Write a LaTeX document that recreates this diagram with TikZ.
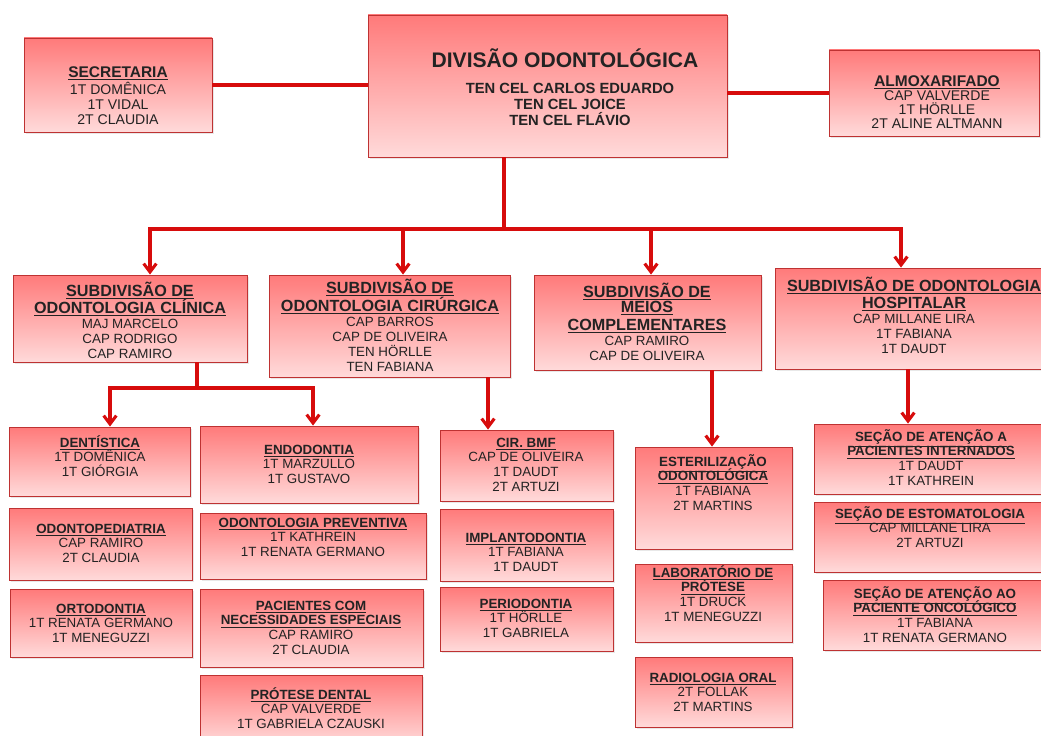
\documentclass[tikz,border=0pt]{standalone}
\usepackage{fontspec}
\setmainfont{Liberation Sans}
\usetikzlibrary{arrows.meta,fit,shadows}

\definecolor{boxtop}{RGB}{255,122,122}
\definecolor{boxbot}{RGB}{255,218,218}
\definecolor{boxline}{RGB}{190,50,50}
\definecolor{linkred}{RGB}{215,12,12}
\definecolor{inkgray}{RGB}{35,35,35}

% first-line strut, so that a text node hangs from its first baseline
\newcommand{\lnstrut}{\rule{0pt}{11pt}}
\newcommand{\hdr}[1]{\lnstrut\textbf{\underline{#1}}}
\newcommand{\subhdr}[1]{\lnstrut{\fontsize{11.5}{12}\selectfont\bfseries\underline{#1}}}
\newcommand{\tophdr}[1]{\lnstrut{\fontsize{11}{12}\selectfont\bfseries\underline{#1}}}

\tikzset{
	cell/.style={draw=boxline, line width=0.6pt, top color=boxtop, bottom color=boxbot, inner sep=0pt,
		drop shadow={shadow xshift=1.2pt, shadow yshift=-1.2pt, opacity=0.18}},
	note/.style={anchor=north, yshift=11pt, inner sep=0pt, align=center, text=inkgray,
		font={\fontsize{9.5}{10.45}\selectfont\lineskiplimit=-20pt\relax}},
	subnote/.style={note, font={\fontsize{9.5}{10.7}\selectfont\lineskiplimit=-20pt\relax}},
	topnote/.style={note, font={\fontsize{10}{10.7}\selectfont\lineskiplimit=-20pt\relax}},
	link/.style={draw=linkred, line width=2.2pt},
	arrowlink/.style={link, -{Straight Barb[length=6pt,width=9pt]}},
	arrowboth/.style={link, {Straight Barb[length=6pt,width=9pt]}-{Straight Barb[length=6pt,width=9pt]}}
}

\begin{document}
\begin{tikzpicture}[x=0.025cm, y=-0.025cm]
	\useasboundingbox (0,0) rectangle (1041,736);
	\clip (0,0) rectangle (1041,736);

	% top row
	\node[cell, fit={(368,15) (727,157)}] (div) {};
	\node[anchor=base, inner sep=0pt, text=inkgray, font=\fontsize{15}{16}\selectfont\bfseries] (div-title) at (565,68) {DIVISÃO ODONTOLÓGICA};
	\node[note, font={\fontsize{10.5}{11.4}\selectfont\bfseries\lineskiplimit=-20pt\relax}] (div-names) at (570,93) {\lnstrut TEN CEL CARLOS EDUARDO\\TEN CEL JOICE\\TEN CEL FLÁVIO};

	\node[cell, fit={(24,38) (212,132)}] (secr) {};
	\node[topnote] (secr-t) at (118,77) {\tophdr{SECRETARIA}\\[1.4pt]1T DOMÊNICA\\1T VIDAL\\2T CLAUDIA};

	\node[cell, fit={(829,50) (1039,136)}] (almox) {};
	\node[topnote, font={\fontsize{10}{10}\selectfont\lineskiplimit=-20pt\relax}] (almox-t) at (937,86) {\tophdr{ALMOXARIFADO}\\CAP VALVERDE\\1T HÖRLLE\\2T ALINE ALTMANN};

	% subdivisions
	\node[cell, fit={(13,275) (247,362)}] (clin) {};
	\node[subnote] (clin-t) at (130,296) {\subhdr{SUBDIVISÃO DE}\\[1.4pt]\subhdr{ODONTOLOGIA CLÍNICA}\\MAJ MARCELO\\CAP RODRIGO\\CAP RAMIRO};

	\node[cell, fit={(269,275) (510,377)}] (cir) {};
	\node[subnote] (cir-t) at (390,293) {\subhdr{SUBDIVISÃO DE}\\[2pt]\subhdr{ODONTOLOGIA CIRÚRGICA}\\CAP BARROS\\CAP DE OLIVEIRA\\TEN HÖRLLE\\TEN FABIANA};

	\node[cell, fit={(534,275) (761,370)}] (meios) {};
	\node[subnote] (meios-t) at (647,297) {\subhdr{SUBDIVISÃO DE}\\\subhdr{MEIOS}\\[2pt]\subhdr{COMPLEMENTARES}\\CAP RAMIRO\\CAP DE OLIVEIRA};

	\node[cell, fit={(775,268) (1046,369)}] (hosp) {};
	\node[subnote] (hosp-t) at (914,291) {\subhdr{SUBDIVISÃO DE ODONTOLOGIA}\\[1.4pt]\subhdr{HOSPITALAR}\\CAP MILLANE LIRA\\1T FABIANA\\1T DAUDT};

	% clinica
	\node[cell, fit={(9,427) (190,496)}] (dent) {};
	\node[note] (dent-t) at (100,447) {\hdr{DENTÍSTICA}\\1T DOMÊNICA\\1T GIÓRGIA};
	\node[cell, fit={(9,508) (192,580)}] (odped) {};
	\node[note] (odped-t) at (101,533) {\hdr{ODONTOPEDIATRIA}\\CAP RAMIRO\\2T CLAUDIA};
	\node[cell, fit={(10,589) (192,657)}] (orto) {};
	\node[note] (orto-t) at (101,613) {\hdr{ORTODONTIA}\\1T RENATA GERMANO\\1T MENEGUZZI};

	\node[cell, fit={(200,426) (418,503)}] (endo) {};
	\node[note] (endo-t) at (309,454) {\hdr{ENDODONTIA}\\1T MARZULLO\\1T GUSTAVO};
	\node[cell, fit={(200,513) (426,579)}] (prev) {};
	\node[note] (prev-t) at (313,527) {\hdr{ODONTOLOGIA PREVENTIVA}\\1T KATHREIN\\1T RENATA GERMANO};
	\node[cell, fit={(200,589) (423,667)}] (pne) {};
	\node[note] (pne-t) at (311,610) {\hdr{PACIENTES COM}\\\hdr{NECESSIDADES ESPECIAIS}\\CAP RAMIRO\\2T CLAUDIA};
	\node[cell, fit={(200,675) (422,745)}] (prot) {};
	\node[note] (prot-t) at (311,699) {\hdr{PRÓTESE DENTAL}\\CAP VALVERDE\\1T GABRIELA CZAUSKI};

	% cirurgica
	\node[cell, fit={(440,430) (613,501)}] (bmf) {};
	\node[note] (bmf-t) at (526,447) {\hdr{CIR. BMF}\\CAP DE OLIVEIRA\\1T DAUDT\\2T ARTUZI};
	\node[cell, fit={(440,509) (613,581)}] (impl) {};
	\node[note] (impl-t) at (526,542) {\hdr{IMPLANTODONTIA}\\1T FABIANA\\1T DAUDT};
	\node[cell, fit={(440,587) (613,651)}] (perio) {};
	\node[note] (perio-t) at (526,608) {\hdr{PERIODONTIA}\\1T HÖRLLE\\1T GABRIELA};

	% meios complementares
	\node[cell, fit={(635,447) (792,549)}] (este) {};
	\node[note] (este-t) at (713,466) {\hdr{ESTERILIZAÇÃO}\\\hdr{ODONTOLÓGICA}\\1T FABIANA\\2T MARTINS};
	\node[cell, fit={(635,564) (792,642)}] (lab) {};
	\node[note] (lab-t) at (713,577) {\hdr{LABORATÓRIO DE}\\\hdr{PRÓTESE}\\1T DRUCK\\1T MENEGUZZI};
	\node[cell, fit={(635,657) (792,727)}] (radio) {};
	\node[note] (radio-t) at (713,682) {\hdr{RADIOLOGIA ORAL}\\2T FOLLAK\\2T MARTINS};

	% hospitalar
	\node[cell, fit={(814,424) (1046,494)}] (intern) {};
	\node[note] (intern-t) at (931,441) {\hdr{SEÇÃO DE ATENÇÃO A}\\\hdr{PACIENTES INTERNADOS}\\1T DAUDT\\1T KATHREIN};
	\node[cell, fit={(814,502) (1046,572)}] (estom) {};
	\node[note] (estom-t) at (930,518) {\hdr{SEÇÃO DE ESTOMATOLOGIA}\\CAP MILLANE LIRA\\2T ARTUZI};
	\node[cell, fit={(823,580) (1046,650)}] (onco) {};
	\node[note] (onco-t) at (935,598) {\hdr{SEÇÃO DE ATENÇÃO AO}\\\hdr{PACIENTE ONCOLÓGICO}\\1T FABIANA\\1T RENATA GERMANO};

	% links
	\draw[link] (secr.east) -- (secr.east -| div.west);
	\draw[link] (div.east |- almox.west) -- (almox.west);

	\coordinate (hub) at (504,229);
	\coordinate (b1) at (150,229);
	\coordinate (b2) at (403,229);
	\coordinate (b3) at (651,229);
	\coordinate (b4) at (901,229);
	\draw[link] (hub |- div.south) -- (hub);
	\draw[arrowboth] (b1 |- clin.north) -- (b1) -- (b4) -- (b4 |- hosp.north);
	\draw[arrowlink] (b2) -- (b2 |- cir.north);
	\draw[arrowlink] (b3) -- (b3 |- meios.north);

	\coordinate (cl-hub) at (197,388);
	\coordinate (cl1) at (110,388);
	\coordinate (cl2) at (313,388);
	\draw[link] (cl-hub |- clin.south) -- (cl-hub);
	\draw[arrowboth] (cl1 |- dent.north) -- (cl1) -- (cl2) -- (cl2 |- endo.north);

	\coordinate (cr) at (488,400);
	\coordinate (mc) at (712,400);
	\coordinate (hs) at (908,400);
	\draw[arrowlink] (cr |- cir.south) -- (cr |- bmf.north);
	\draw[arrowlink] (mc |- meios.south) -- (mc |- este.north);
	\draw[arrowlink] (hs |- hosp.south) -- (hs |- intern.north);
\end{tikzpicture}
\end{document}
